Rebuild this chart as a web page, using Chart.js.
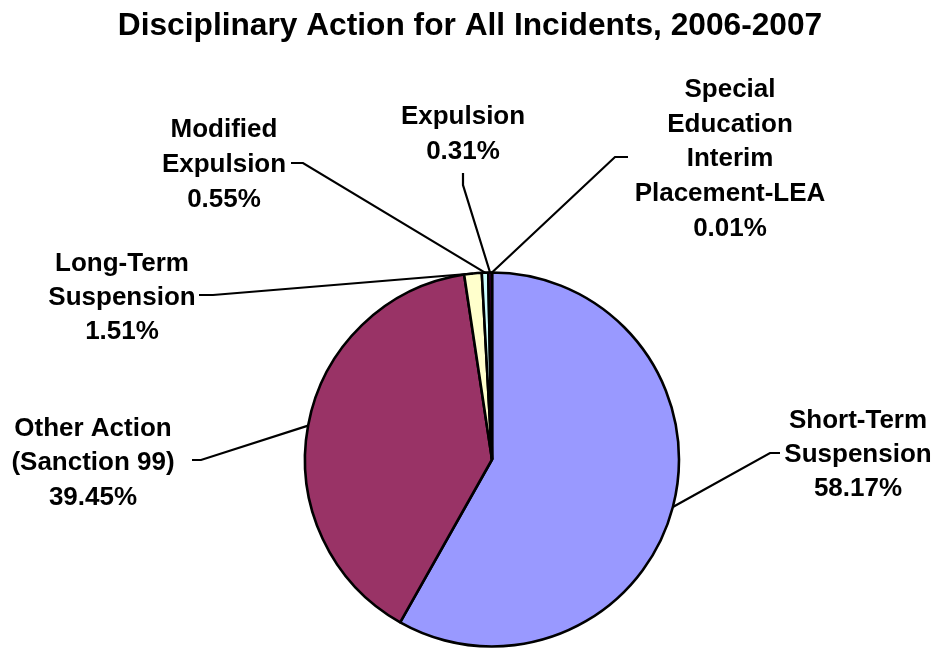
<!DOCTYPE html>
<html>
<head>
<meta charset="utf-8">
<script src="https://cdn.jsdelivr.net/npm/chart.js@4/dist/chart.umd.min.js"></script>
<style>
  html, body { margin: 0; padding: 0; background: #fff; }
  #wrap { width: 938px; height: 648px; }
</style>
</head>
<body>
<div id="wrap"><canvas id="chartDisciplina"></canvas></div>
<script>
const chartTitle = 'Disciplinary Action for All Incidents, 2006-2007'
const categories = ['Short-Term Suspension', 'Other Action (Sanction 99)', 'Long-Term Suspension', 'Modified Expulsion', 'Expulsion', 'Special Education Interim Placement-LEA']
const percentValues = [58.17, 39.45, 1.51, 0.55, 0.31, 0.01]
const sliceColors = ['#9999FF', '#993366', '#FFFFCC', '#CCFFFF', '#660066', '#FF8080']

// how each label is wrapped and where it sits (text centre x, line baselines, leader elbow and end)
const labelLayout = [
    { lines : ['Short-Term', 'Suspension'], x : 858, y : [428, 462, 496], elbow : [770, 453], end : [780, 453] },
    { lines : ['Other Action', '(Sanction 99)'], x : 93, y : [436, 470, 505], elbow : [201, 460], end : [192, 460] },
    { lines : ['Long-Term', 'Suspension'], x : 122, y : [271, 305, 339], elbow : [213, 295], end : [199, 295] },
    { lines : ['Modified', 'Expulsion'], x : 224, y : [137, 172, 207], elbow : [303, 163], end : [291, 163] },
    { lines : ['Expulsion'], x : 463, y : [124, 159], elbow : [463, 185], end : [463, 173] },
    { lines : ['Special', 'Education', 'Interim', 'Placement-LEA'], x : 730, y : [97, 132, 166, 201, 236], elbow : [615, 157], end : [628, 157] }
]

const labelFont = 'bold 26px "Liberation Sans", Arial, sans-serif'
const titleFont = 'bold 31.7px "Liberation Sans", Arial, sans-serif'

const etiquetas = {
    id : 'etiquetas',
    afterDraw(chart) {
        const ctx = chart.ctx
        const meta = chart.getDatasetMeta(0)
        ctx.save()

        ctx.fillStyle = '#000'
        ctx.textAlign = 'center'
        ctx.textBaseline = 'alphabetic'
        ctx.font = titleFont
        ctx.fillText(chartTitle, 470, 35)

        ctx.strokeStyle = '#000'
        ctx.lineWidth = 2.2
        ctx.font = labelFont
        meta.data.forEach((arc, i) => {
            const p = arc.getProps(['x', 'y', 'startAngle', 'endAngle', 'outerRadius'], true)
            const mid = (p.startAngle + p.endAngle) / 2
            const ax = p.x + Math.cos(mid) * p.outerRadius
            const ay = p.y + Math.sin(mid) * p.outerRadius
            const lay = labelLayout[i]

            ctx.beginPath()
            ctx.moveTo(ax, ay)
            ctx.lineTo(lay.elbow[0], lay.elbow[1])
            ctx.lineTo(lay.end[0], lay.end[1])
            ctx.stroke()

            const texto = lay.lines.concat([percentValues[i].toFixed(2) + '%'])
            texto.forEach((t, j) => ctx.fillText(t, lay.x, lay.y[j]))
        })
        ctx.restore()
    }
}

const canvas = document.getElementById('chartDisciplina')
const context = canvas.getContext('2d')

const chartDisciplina = new Chart(context, {
    type : 'pie',
    data : {
        labels : categories,
        datasets : [
            {
                data : percentValues,
                backgroundColor : sliceColors,
                borderColor : '#000',
                borderWidth : 2.6
            }
        ]
    },
    options : {
        responsive : true,
        maintainAspectRatio : false,
        animation : false,
        radius : 187,
        layout : {
            padding : { top : 272, bottom : 1, left : 50, right : 4 }
        },
        plugins : {
            legend : { display : false },
            tooltip : { enabled : false },
            title : { display : false }
        }
    },
    plugins : [etiquetas]
})
</script>
</body>
</html>
